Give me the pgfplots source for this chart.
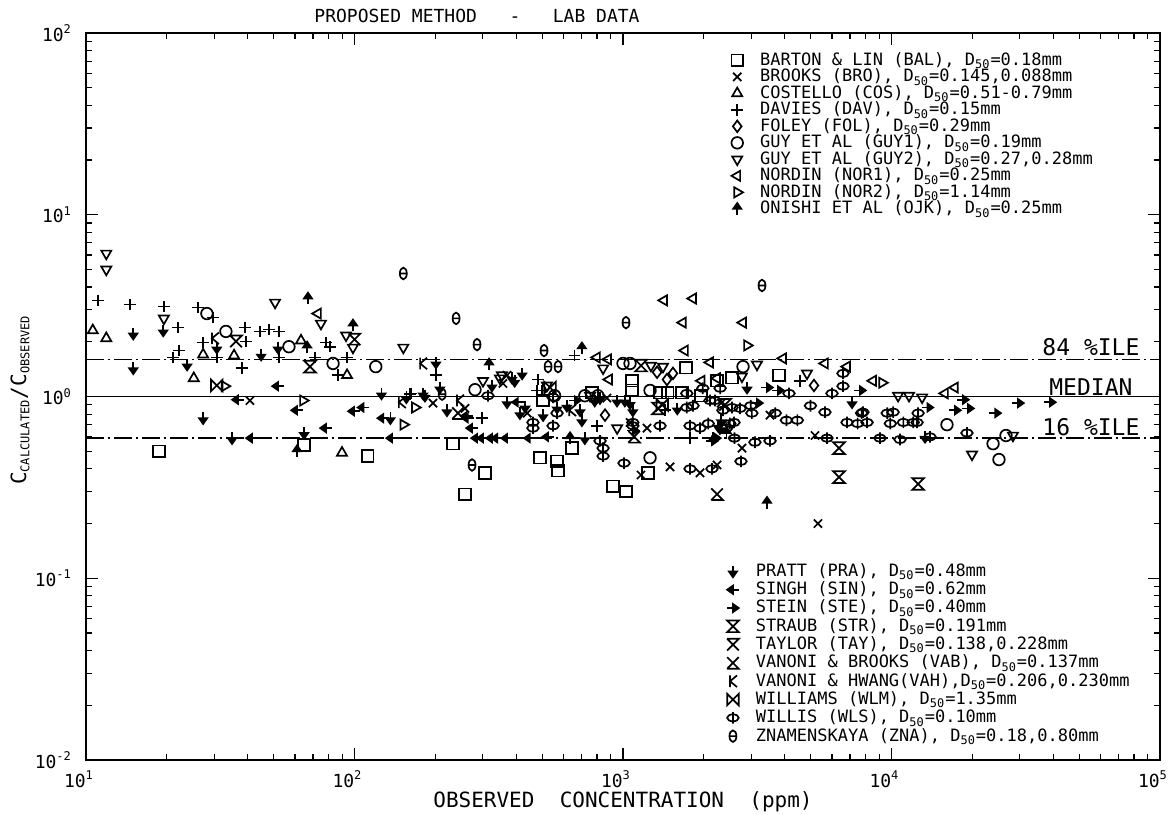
\documentclass[border=0pt]{standalone}
\usepackage{fontspec}
\setmainfont{DejaVu Sans Mono}
\newfontfamily\pf{DejaVu Sans Mono}
\usepackage{pgfplots}
\pgfplotsset{compat=1.18}

\newcommand{\arrowupmark}{%
 \pgfpathmoveto{\pgfqpoint{0pt}{-\pgfplotmarksize}}%
 \pgfpathlineto{\pgfqpoint{0pt}{0.2\pgfplotmarksize}}%
 \pgfusepathqstroke
 \pgfpathmoveto{\pgfqpoint{0pt}{\pgfplotmarksize}}%
 \pgfpathlineto{\pgfqpoint{-0.7\pgfplotmarksize}{0pt}}%
 \pgfpathlineto{\pgfqpoint{0.7\pgfplotmarksize}{0pt}}%
 \pgfpathclose
 \pgfusepathqfillstroke}
\pgfdeclareplotmark{arrup}{\arrowupmark}
\pgfdeclareplotmark{hourglass}{%
 \pgfpathmoveto{\pgfqpoint{-\pgfplotmarksize}{\pgfplotmarksize}}%
 \pgfpathlineto{\pgfqpoint{\pgfplotmarksize}{\pgfplotmarksize}}%
 \pgfpathlineto{\pgfqpoint{-\pgfplotmarksize}{-\pgfplotmarksize}}%
 \pgfpathlineto{\pgfqpoint{\pgfplotmarksize}{-\pgfplotmarksize}}%
 \pgfpathclose
 \pgfusepathqstroke}
\pgfdeclareplotmark{xtop}{%
 \pgfpathmoveto{\pgfqpoint{-\pgfplotmarksize}{\pgfplotmarksize}}%
 \pgfpathlineto{\pgfqpoint{\pgfplotmarksize}{\pgfplotmarksize}}%
 \pgfpathlineto{\pgfqpoint{-\pgfplotmarksize}{-\pgfplotmarksize}}%
 \pgfpathmoveto{\pgfqpoint{-\pgfplotmarksize}{\pgfplotmarksize}}%
 \pgfpathlineto{\pgfqpoint{\pgfplotmarksize}{-\pgfplotmarksize}}%
 \pgfusepathqstroke}
\pgfdeclareplotmark{xbot}{%
 \pgfpathmoveto{\pgfqpoint{-\pgfplotmarksize}{-\pgfplotmarksize}}%
 \pgfpathlineto{\pgfqpoint{\pgfplotmarksize}{-\pgfplotmarksize}}%
 \pgfpathlineto{\pgfqpoint{-\pgfplotmarksize}{\pgfplotmarksize}}%
 \pgfpathmoveto{\pgfqpoint{-\pgfplotmarksize}{-\pgfplotmarksize}}%
 \pgfpathlineto{\pgfqpoint{\pgfplotmarksize}{\pgfplotmarksize}}%
 \pgfusepathqstroke}
\pgfdeclareplotmark{bowtie}{%
 \pgfpathmoveto{\pgfqpoint{-\pgfplotmarksize}{\pgfplotmarksize}}%
 \pgfpathlineto{\pgfqpoint{-\pgfplotmarksize}{-\pgfplotmarksize}}%
 \pgfpathlineto{\pgfqpoint{\pgfplotmarksize}{\pgfplotmarksize}}%
 \pgfpathlineto{\pgfqpoint{\pgfplotmarksize}{-\pgfplotmarksize}}%
 \pgfpathclose
 \pgfusepathqstroke}
\pgfdeclareplotmark{kmark}{%
 \pgfpathmoveto{\pgfqpoint{-0.5\pgfplotmarksize}{\pgfplotmarksize}}%
 \pgfpathlineto{\pgfqpoint{-0.5\pgfplotmarksize}{-\pgfplotmarksize}}%
 \pgfpathmoveto{\pgfqpoint{0.7\pgfplotmarksize}{\pgfplotmarksize}}%
 \pgfpathlineto{\pgfqpoint{-0.5\pgfplotmarksize}{0pt}}%
 \pgfpathlineto{\pgfqpoint{0.7\pgfplotmarksize}{-\pgfplotmarksize}}%
 \pgfusepathqstroke}
\pgfdeclareplotmark{phimark}{%
 \pgfpathellipse{\pgfpointorigin}{\pgfqpoint{\pgfplotmarksize}{0pt}}{\pgfqpoint{0pt}{0.6\pgfplotmarksize}}%
 \pgfpathmoveto{\pgfqpoint{0pt}{-\pgfplotmarksize}}%
 \pgfpathlineto{\pgfqpoint{0pt}{\pgfplotmarksize}}%
 \pgfusepathqstroke}
\pgfdeclareplotmark{thetamark}{%
 \pgfpathellipse{\pgfpointorigin}{\pgfqpoint{0.6\pgfplotmarksize}{0pt}}{\pgfqpoint{0pt}{\pgfplotmarksize}}%
 \pgfpathmoveto{\pgfqpoint{-0.6\pgfplotmarksize}{0pt}}%
 \pgfpathlineto{\pgfqpoint{0.6\pgfplotmarksize}{0pt}}%
 \pgfusepathqstroke}

\pgfplotsset{
 mypt/.style={only marks, black, fill=black, mark size=2.9pt, line width=0.85pt,
   legend image code/.code={\draw[##1] plot coordinates {(0.1cm,0cm)};}},
}

\begin{document}
\begin{tikzpicture}
\path[use as bounding box] (-43pt,-27pt) rectangle (545pt,380pt);
\begin{axis}[
 scale only axis, width=537pt, height=363.5pt,
 xmode=log, ymode=log, xmin=10, xmax=100000, ymin=0.01, ymax=100,
 legend cell align=left,
 legend style={draw=none, fill=none, font=\pf\fontsize{8.5}{9}\selectfont,
     nodes={inner sep=0.6pt}, column sep=8pt, row sep=-0.9pt, anchor=north west, at={(0.595,0.981)}},
 xtick={10,100,1000,10000,100000},
 xticklabels={10\textsuperscript{1},10\textsuperscript{2},10\textsuperscript{3},10\textsuperscript{4},10\textsuperscript{5}},
 ytick={0.01,0.1,1,10,100},
 yticklabels={10\textsuperscript{-2},10\textsuperscript{-1},10\textsuperscript{0},10\textsuperscript{1},10\textsuperscript{2}},
 tick align=inside, major tick length=6pt, minor tick length=3pt,
 axis line style={line width=1pt},
 every tick/.style={black, line width=0.6pt},
 ticklabel style={font=\pf\fontsize{9}{9}\selectfont},
 xticklabel style={yshift=-2pt, xshift=-3.5pt},
 yticklabel style={xshift=-3.5pt},
]
% reference lines
\addplot[forget plot, black, line width=0.9pt] coordinates {(10,1) (100000,1)};
\addplot[forget plot, black, line width=0.7pt, dash pattern=on 9pt off 2pt on 1pt off 2pt] coordinates {(10,1.60) (100000,1.60)};
\addplot[forget plot, black, line width=0.7pt, dash pattern=on 9pt off 2pt on 1pt off 2pt] coordinates {(10,0.59) (100000,0.59)};

\addplot[mypt, mark=square] coordinates {(18.7,0.50) (64.9,0.54) (112,0.47) (233,0.55) (306,0.38) (258,0.29) (491,0.46) (568,0.44) (573,0.39) (646,0.52) (918,0.32) (1026,0.30) (1239,0.38) (1717,1.44) (2547,1.27) (3811,1.31) (1374,1.05) (1468,1.05) (1079,1.22) (1079,1.08) (767,1.05) (503,0.95) (1658,1.05) (2240,1.22) (1950,1.01)};
\addlegendentry{BARTON \& LIN (BAL), D\textsubscript{50}=0.18mm}
\addplot[mypt, mark=x] coordinates {(5322,0.20) (5188,0.61) (2773,0.52) (2240,0.42) (1936,0.38) (1497,0.41) (1167,0.37) (40.8,0.95) (357,1.18) (258,0.86) (871,0.98) (1228,0.67) (3529,0.79) (370,1.31) (196,0.92) (440,0.81) (1062,0.72) (2320,0.92)};
\addlegendentry{BROOKS (BRO), D\textsubscript{50}=0.145,0.088mm}
\addplot[mypt, mark=triangle] coordinates {(10.6,2.31) (11.9,2.09) (25.2,1.26) (27.3,1.70) (35.6,1.68) (63.2,2.03) (93.8,1.31) (89.8,0.49)};
\addlegendentry{COSTELLO (COS), D\textsubscript{50}=0.51-0.79mm}
\addplot[mypt, mark=+] coordinates {(11.1,3.38) (14.6,3.21) (19.5,3.13) (22.0,2.40) (26.1,3.09) (29.7,2.72) (21.1,1.64) (22.2,1.79) (27.3,1.98) (30.7,1.64) (39.4,2.01) (38.1,1.44) (39.1,2.40) (44.5,2.28) (48.1,2.34) (52.4,2.28) (52.4,1.64) (78.3,1.98) (81.1,1.88) (71.3,1.64) (86.9,1.31) (93.8,1.64) (161,1.03) (201,1.31) (660,1.68) (482,1.24) (478,1.08) (800,0.69) (1432,0.84) (1777,0.59) (4563,1.22) (499,1.08) (163,1.04) (299,0.76)};
\addlegendentry{DAVIES (DAV), D\textsubscript{50}=0.15mm}
\addplot[mypt, mark=diamond] coordinates {(857,0.79) (1458,1.24) (1535,1.34) (5143,1.15) (1339,1.36)};
\addlegendentry{FOLEY (FOL), D\textsubscript{50}=0.29mm}
\addplot[mypt, mark=o] coordinates {(28.2,2.86) (33.2,2.28) (57.0,1.88) (83.2,1.52) (120,1.46) (281,1.09) (1000,1.52) (1062,1.52) (2799,1.46) (1261,0.46) (1261,1.08) (16090,0.70) (23890,0.55) (25130,0.45) (26690,0.61) (556,1.01) (721,1.01) (806,1.01)};
\addlegendentry{GUY ET AL (GUY1), D\textsubscript{50}=0.19mm}
\addplot[mypt, mark=triangle, mark options={rotate=180}] coordinates {(11.9,6.12) (11.9,5.00) (19.5,2.69) (50.6,3.29) (75.0,2.52) (93.0,2.17) (98.7,1.86) (152,1.86) (301,1.22) (354,1.31) (843,1.43) (1271,1.48) (1409,1.46) (3155,1.50) (2773,1.29) (4844,1.34) (10580,1.01) (11620,1.01) (13000,0.99) (19950,0.48) (28330,0.61) (754,1.01) (348,1.26) (521,1.15) (951,0.67)};
\addlegendentry{GUY ET AL (GUY2), D\textsubscript{50}=0.27,0.28mm}
\addplot[mypt, mark=triangle, mark options={rotate=90}] coordinates {(73.1,2.86) (1422,3.38) (1823,3.46) (1672,2.55) (2799,2.55) (1701,1.79) (800,1.64) (880,1.60) (887,1.24) (2109,1.54) (3945,1.62) (5652,1.52) (6828,1.46) (8535,1.22) (15820,1.04) (17230,1.12) (1963,1.22) (2240,1.26)};
\addlegendentry{NORDIN (NOR1), D\textsubscript{50}=0.25mm}
\addplot[mypt, mark=triangle, mark options={rotate=-90}] coordinates {(32.8,1.14) (64.3,0.95) (152,0.70) (168,0.87) (2897,1.91) (9222,1.19)};
\addlegendentry{NORDIN (NOR2), D\textsubscript{50}=1.14mm}
\addplot[mypt, mark=arrup] coordinates {(67.1,3.46) (66.6,1.86) (98.7,2.46) (317,1.50) (3438,0.26) (61.1,0.50) (703,1.84) (635,0.59) (2430,0.63)};
\addlegendentry{ONISHI ET AL (OJK), D\textsubscript{50}=0.25mm}

\node[font=\pf\fontsize{11.5}{12}\selectfont] at (axis cs:55300,1.88) {84 \%ILE};
\node[font=\pf\fontsize{11.5}{12}\selectfont] at (axis cs:55300,1.12) {MEDIAN};
\node[font=\pf\fontsize{11.5}{12}\selectfont] at (axis cs:55300,0.675) {16 \%ILE};
\end{axis}

\begin{axis}[
 scale only axis, width=537pt, height=363.5pt,
 xmode=log, ymode=log, xmin=10, xmax=100000, ymin=0.01, ymax=100,
 hide axis,
 legend cell align=left,
 legend style={draw=none, fill=none, font=\pf\fontsize{8.5}{9}\selectfont,
     nodes={inner sep=0.6pt}, column sep=8pt, row sep=0pt, anchor=north west, at={(0.591,0.278)}},
]
\addplot[mypt, mark=arrup, mark options={rotate=180}] coordinates {(15.0,2.22) (15.0,1.43) (19.4,2.31) (23.8,1.50) (30.7,1.86) (44.9,1.70) (51.9,1.86) (27.3,0.76) (35.0,0.59) (64.9,0.63) (126,1.04) (180,1.04) (136,0.76) (221,0.84) (208,1.12) (201,1.54) (13330,0.60) (325,1.15) (386,1.27) (421,1.34) (370,0.93) (432,0.88) (568,0.87) (618,0.89) (692,0.84) (821,0.98) (950,0.95) (1016,0.95) (1088,0.84) (721,0.59) (2163,0.59) (2296,0.67) (2897,1.12) (7130,0.93) (395,1.22) (156,0.99) (183,1.01) (413,0.81) (504,0.79) (785,0.95) (1062,0.92) (1593,0.86) (2323,0.74) (2260,0.69) (703,0.74)};
\addlegendentry{PRATT (PRA), D\textsubscript{50}=0.48mm}
\addplot[mypt, mark=arrup, mark options={rotate=90}] coordinates {(51.9,1.14) (36.8,0.96) (61.1,0.84) (78.3,0.67) (99.5,0.83) (108,0.87) (128,0.76) (41.5,0.59) (138,0.59) (262,0.78) (274,0.67) (286,0.59) (301,0.59) (325,0.59) (370,0.59) (450,0.59) (526,0.60) (406,0.93) (264,0.76) (340,0.59)};
\addlegendentry{SINGH (SIN), D\textsubscript{50}=0.62mm}
\addplot[mypt, mark=arrup, mark options={rotate=-90}] coordinates {(3438,1.12) (3779,1.08) (7634,1.08) (18460,0.96) (17230,0.84) (19270,0.86) (24310,0.81) (29580,0.92) (38910,0.93) (2145,0.57) (662,0.95) (13600,0.87) (1088,0.65) (3155,0.92) (2200,0.59)};
\addlegendentry{STEIN (STE), D\textsubscript{50}=0.40mm}
\addplot[mypt, mark=hourglass] coordinates {(6374,0.52) (6374,0.36) (12560,0.33) (1350,0.86) (68.3,1.46) (1167,1.48)};
\addlegendentry{STRAUB (STR), D\textsubscript{50}=0.191mm}
\addplot[mypt, mark=xtop] coordinates {(36.2,2.01) (100,2.06) (2400,0.90)};
\addlegendentry{TAYLOR (TAY), D\textsubscript{50}=0.138,0.228mm}
\addplot[mypt, mark=xbot] coordinates {(2240,0.29) (1100,0.60) (243,0.81)};
\addlegendentry{VANONI \& BROOKS (VAB), D\textsubscript{50}=0.137mm}
\addplot[mypt, mark=kmark] coordinates {(30.2,2.09) (180,1.52) (150,0.93) (247,0.95) (646,0.84)};
\addlegendentry{VANONI \& HWANG(VAH),D\textsubscript{50}=0.206,0.230mm}
\addplot[mypt, mark=bowtie] coordinates {(30.7,1.15) (535,1.12) (1400,0.90)};
\addlegendentry{WILLIAMS (WLM), D\textsubscript{50}=1.35mm}
\addplot[mypt, mark=phimark] coordinates {(462,0.67) (568,0.81) (843,0.47) (1009,0.43) (1777,0.40) (2145,0.40) (2750,0.44) (6597,1.34) (6597,1.14) (6003,1.04) (4152,1.04) (3529,0.57) (5750,0.59) (9060,0.59) (10760,0.58) (13910,0.60) (19100,0.63) (549,0.99) (1728,0.87) (2109,0.95) (2356,0.84) (2729,0.86) (3020,0.81) (1088,0.69) (1374,0.69) (1777,0.69) (1936,0.67) (2430,0.67) (7830,0.82) (6830,0.72) (8110,0.72) (11070,0.72) (12050,0.72) (12560,0.81) (10140,0.82) (4990,0.89) (4460,0.74) (5650,0.82) (2990,0.89) (3690,0.81) (2200,0.95) (314,1.01) (462,0.72) (549,0.69) (1088,0.72) (821,0.57) (843,0.52) (1728,1.04) (1823,0.89) (2077,0.71) (2500,0.71) (2600,0.59) (1983,1.11) (2300,1.11) (2547,0.87) (2590,0.72) (3100,0.56) (4060,0.74) (7740,0.81) (7480,0.71) (9640,0.81) (9900,0.71) (12450,0.72)};
\addlegendentry{WILLIS (WLS), D\textsubscript{50}=0.10mm}
\addplot[mypt, mark=thetamark] coordinates {(152,4.75) (239,2.69) (286,1.93) (1026,2.55) (3294,4.08) (508,1.79) (526,1.46) (573,1.46) (274,0.42) (212,1.03)};
\addlegendentry{ZNAMENSKAYA (ZNA), D\textsubscript{50}=0.18,0.80mm}
\end{axis}

\node[font=\pf\fontsize{9}{10}\selectfont] at (195.5pt,372pt) {PROPOSED METHOD\ \ \ -\ \ \ LAB DATA};
\node[font=\pf\fontsize{10.5}{11}\selectfont] at (268.5pt,-21pt) {OBSERVED\ \ CONCENTRATION\ \ (ppm)};
\node[rotate=90, font=\pf\fontsize{10.5}{11}\selectfont] at (-33pt,180pt) {C\textsubscript{\fontsize{6}{6}\selectfont CALCULATED}/C\textsubscript{\fontsize{6}{6}\selectfont OBSERVED}};
\end{tikzpicture}
\end{document}
